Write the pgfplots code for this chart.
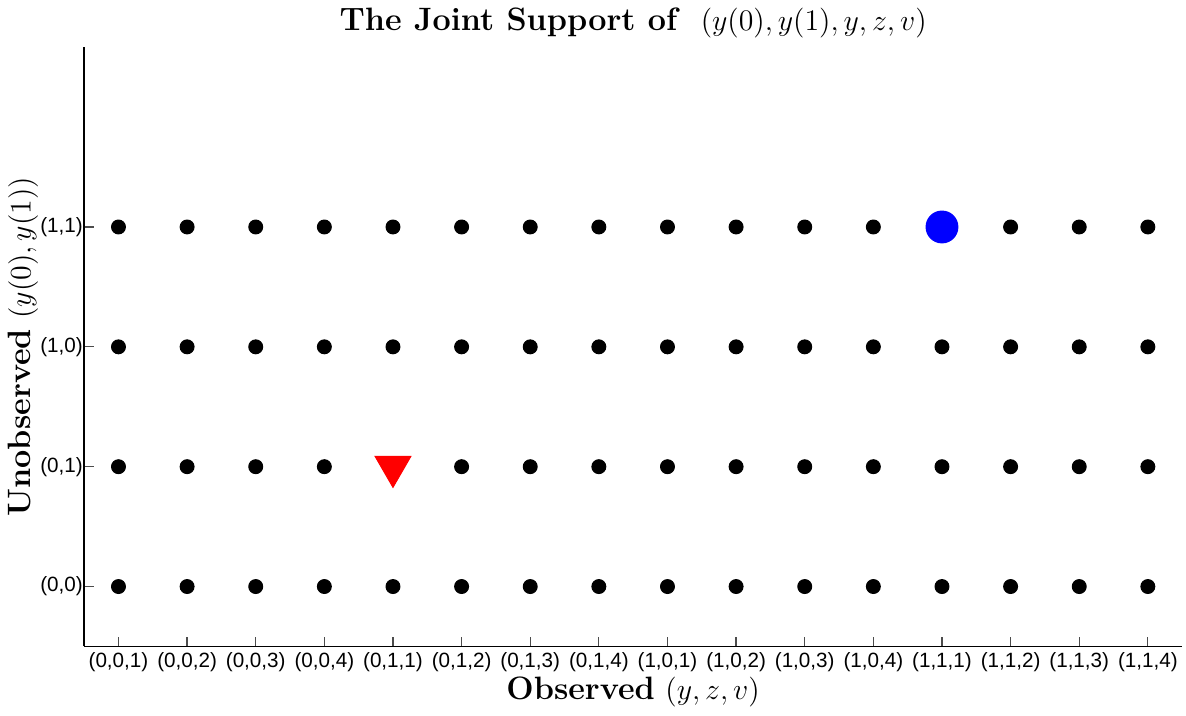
\documentclass[border=0pt]{standalone}
\usepackage{pgfplots}
\pgfplotsset{compat=1.18}
\usepackage{fontspec}
\newfontfamily\arial{Liberation Sans}
\begin{document}
\begin{tikzpicture}
\begin{axis}[
  scale only axis,
  width=441.2pt, height=240.8pt,
  xmin=0.5, xmax=16.5, ymin=-0.5, ymax=4.5,
  axis x line*=bottom, axis y line*=left,
  axis line style={-, line width=0.6pt},
  tick align=inside,
  major tick length=4pt,
  tick style={line width=0.5pt, black!70},
  xtick={1,...,16},
  xticklabels={(0,0,1),(0,0,2),(0,0,3),(0,0,4),(0,1,1),(0,1,2),(0,1,3),(0,1,4),(1,0,1),(1,0,2),(1,0,3),(1,0,4),(1,1,1),(1,1,2),(1,1,3),(1,1,4)},
  ytick={0,1,2,3},
  yticklabels={(0,0),(0,1),(1,0),(1,1)},
  ticklabel style={font=\arial\fontsize{8.3}{9}\selectfont},
  xticklabel style={yshift=1pt},
  yticklabel style={xshift=3pt},
  title={\fontsize{13}{15}\selectfont\textbf{The Joint Support of}\ \ $(y(0),y(1),y,z,v)$},
  title style={yshift=-6pt},
  xlabel={\fontsize{13}{15}\selectfont\textbf{Observed} $(y,z,v)$},
  ylabel={\fontsize{13}{15}\selectfont\textbf{Unobserved} $(y(0),y(1))$},
  xlabel style={yshift=5pt},
  ylabel style={yshift=-6pt},
  clip=false,
]
\addplot[only marks, mark=*, mark size=2.8pt, black] table {
x y
1 0
2 0
3 0
4 0
5 0
6 0
7 0
8 0
9 0
10 0
11 0
12 0
13 0
14 0
15 0
16 0
1 1
2 1
3 1
4 1
6 1
7 1
8 1
9 1
10 1
11 1
12 1
13 1
14 1
15 1
16 1
1 2
2 2
3 2
4 2
5 2
6 2
7 2
8 2
9 2
10 2
11 2
12 2
13 2
14 2
15 2
16 2
1 3
2 3
3 3
4 3
5 3
6 3
7 3
8 3
9 3
10 3
11 3
12 3
14 3
15 3
16 3
};
\addplot[only marks, mark=triangle*, mark options={rotate=180}, mark size=8.3pt, red, fill=red] coordinates {(5,1)};
\addplot[only marks, mark=*, mark size=6.4pt, blue, fill=blue] coordinates {(13,3)};
\end{axis}
\end{tikzpicture}
\end{document}
